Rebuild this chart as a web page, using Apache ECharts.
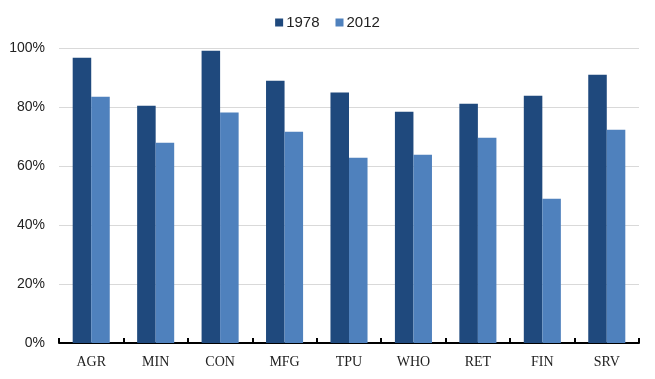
<!DOCTYPE html>
<html>
<head>
<meta charset="utf-8">
<script src="https://cdn.jsdelivr.net/npm/echarts@6/dist/echarts.min.js"></script>
<style>html,body{margin:0;padding:0;background:#fff}#c{width:655px;height:379px}</style>
</head>
<body>
<div id="c"></div>
<script>
const categories = ['AGR','MIN','CON','MFG','TPU','WHO','RET','FIN','SRV'];
const seriesNames = ['1978','2012'];
const values1978 = [96.7, 80.4, 99.1, 88.9, 84.9, 78.4, 81.1, 83.8, 90.9];
const values2012 = [83.5, 67.9, 78.1, 71.6, 62.8, 63.8, 69.6, 48.9, 72.3];
const yTicks = [0, 20, 40, 60, 80, 100];

const chart = echarts.init(document.getElementById('c'), null, {renderer: 'canvas'});
chart.setOption({
  animation: false,
  legend: {
    top: 10, left: 'center',
    itemWidth: 8, itemHeight: 8, itemGap: 16,
    icon: 'rect',
    textStyle: {fontFamily: 'Liberation Sans', fontSize: 15, color: '#222', padding: [0,0,0,-2]},
    data: seriesNames
  },
  grid: {left: 59, right: 16, top: 48, bottom: 36, containLabel: false},
  xAxis: {
    type: 'category',
    data: categories,
    axisLine: {show: true, lineStyle: {color: '#000', width: 2}},
    axisTick: {show: true, inside: true, length: 5, alignWithLabel: false, lineStyle: {color: '#000', width: 2}},
    axisLabel: {fontFamily: 'Liberation Serif', fontSize: 14, color: '#222', margin: 12}
  },
  yAxis: {
    type: 'value', min: yTicks[0], max: yTicks[yTicks.length-1], interval: 20,
    axisLine: {show: false}, axisTick: {show: false},
    splitLine: {show: true, lineStyle: {color: '#D9D9D9', width: 1}},
    axisLabel: {fontFamily: 'Liberation Sans', fontSize: 14, color: '#222', margin: 14, formatter: v => v + '%'}
  },
  series: [
    {name: seriesNames[0], type: 'bar', data: values1978, itemStyle: {color: '#1F497D'}, barGap: '0%', barCategoryGap: '42.5%'},
    {name: seriesNames[1], type: 'bar', data: values2012, itemStyle: {color: '#4F81BD'}, barGap: '0%', barCategoryGap: '42.5%'}
  ]
});
</script>
</body>
</html>
